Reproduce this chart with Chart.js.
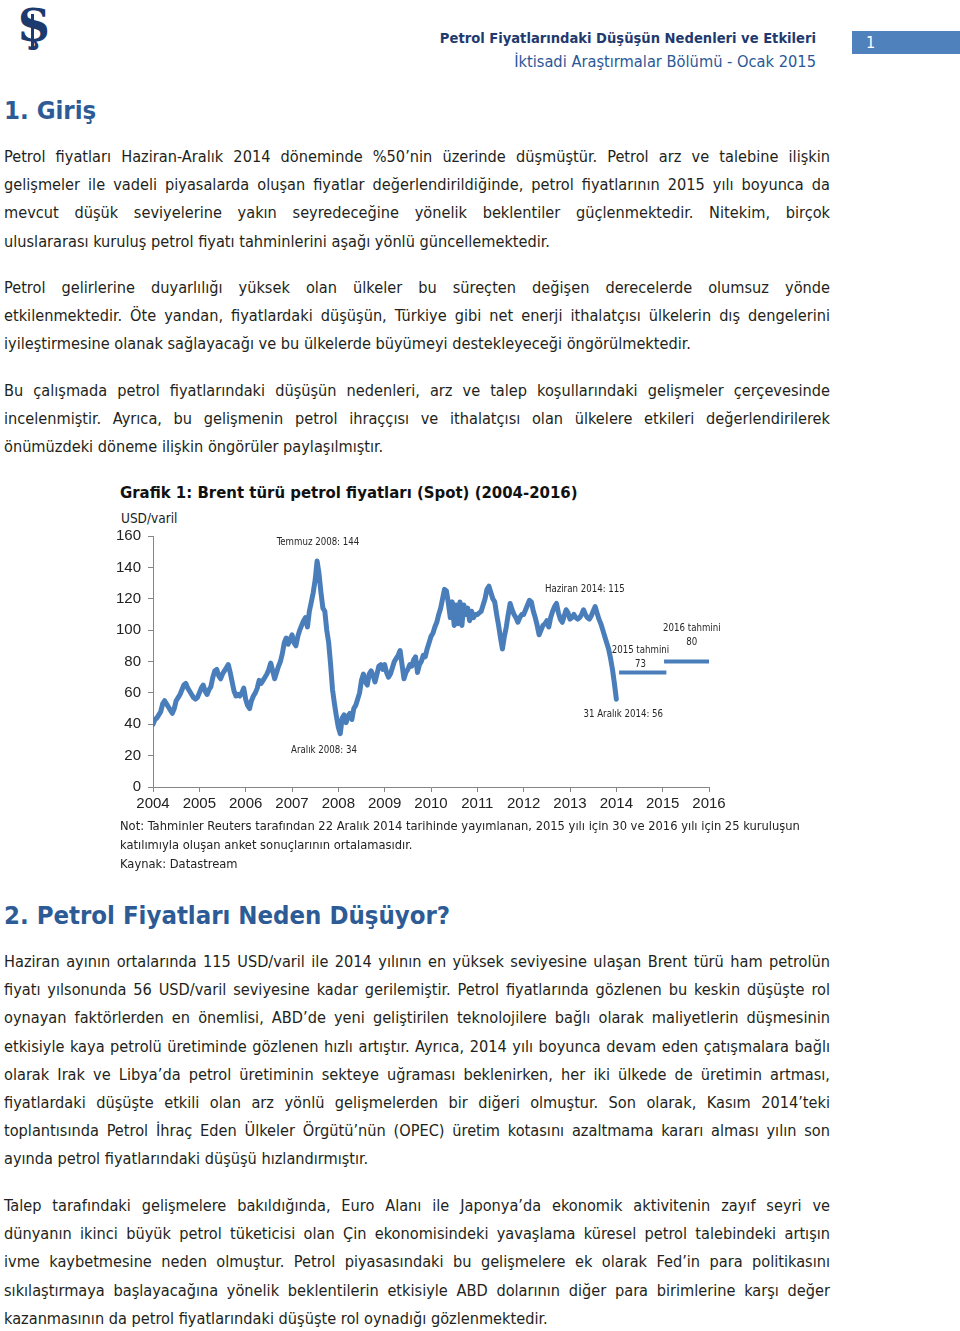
<!DOCTYPE html>
<html lang="tr">
<head>
<meta charset="utf-8">
<script src="https://cdn.jsdelivr.net/npm/chart.js@4"></script>
<style>
  html, body { margin: 0; padding: 0; background: #fff; }
  body { width: 960px; height: 1331px; position: relative; overflow: hidden;
         font-family: "Liberation Sans Narrow", "DejaVu Sans Condensed", "Roboto", sans-serif; color: #231f20; }
  .abs { position: absolute; }
  .logo { left: 18px; top: 0px; font: bold 44px "DejaVu Serif", serif; color: #1d3a6f; }
  .logo-bar { left: 31px; top: 14px; width: 3px; height: 36px; background: #1d3a6f; }
  .hdr1 { right: 144px; top: 29px; font-weight: bold; font-size: 14.6px; color: #1f3a6e; white-space: nowrap; }
  .hdr2 { right: 144px; top: 52px; font-size: 16.3px; color: #2b5797; white-space: nowrap; }
  .pagebox { left: 852px; top: 31px; width: 108px; height: 23px; background: #4f81bd; color: #fff; font-size: 16px; line-height: 23px; }
  .pagebox span { margin-left: 14px; }
  .h { left: 4px; font-weight: bold; font-size: 25.5px; color: #2d5b96; white-space: nowrap; }
  .para { left: 4px; width: 826px; font-size: 16.2px; }
  .para div { height: 28.2px; line-height: 28.2px; white-space: nowrap; }
  .para .j { text-align: justify; text-align-last: justify; }
  .ctitle { left: 120px; top: 483px; font-weight: bold; font-size: 16.6px; color: #111; white-space: nowrap; }
  .unit { left: 121px; top: 510px; font-size: 13.5px; color: #222; }
  .note { left: 120px; top: 816px; font-size: 12.8px; line-height: 19px; color: #222; white-space: nowrap; }
  #chartBox { left: 100px; top: 520px; width: 630px; height: 300px; }
</style>
</head>
<body>

<div class="abs logo">Ş</div>
<div class="abs logo-bar"></div>
<div class="abs hdr1">Petrol Fiyatlarındaki Düşüşün Nedenleri ve Etkileri</div>
<div class="abs hdr2">İktisadi Araştırmalar Bölümü - Ocak 2015</div>
<div class="abs pagebox"><span>1</span></div>

<div class="abs h" style="top:95px">1. Giriş</div>

<div class="abs para" style="top:143px">
  <div class="j">Petrol fiyatları Haziran-Aralık 2014 döneminde %50’nin üzerinde düşmüştür. Petrol arz ve talebine ilişkin</div>
  <div class="j">gelişmeler ile vadeli piyasalarda oluşan fiyatlar değerlendirildiğinde, petrol fiyatlarının 2015 yılı boyunca da</div>
  <div class="j">mevcut düşük seviyelerine yakın seyredeceğine yönelik beklentiler güçlenmektedir. Nitekim, birçok</div>
  <div>uluslararası kuruluş petrol fiyatı tahminlerini aşağı yönlü güncellemektedir.</div>
</div>

<div class="abs para" style="top:274px">
  <div class="j">Petrol gelirlerine duyarlılığı yüksek olan ülkeler bu süreçten değişen derecelerde olumsuz yönde</div>
  <div class="j">etkilenmektedir. Öte yandan, fiyatlardaki düşüşün, Türkiye gibi net enerji ithalatçısı ülkelerin dış dengelerini</div>
  <div>iyileştirmesine olanak sağlayacağı ve bu ülkelerde büyümeyi destekleyeceği öngörülmektedir.</div>
</div>

<div class="abs para" style="top:377px">
  <div class="j">Bu çalışmada petrol fiyatlarındaki düşüşün nedenleri, arz ve talep koşullarındaki gelişmeler çerçevesinde</div>
  <div class="j">incelenmiştir. Ayrıca, bu gelişmenin petrol ihraççısı ve ithalatçısı olan ülkelere etkileri değerlendirilerek</div>
  <div>önümüzdeki döneme ilişkin öngörüler paylaşılmıştır.</div>
</div>

<div class="abs ctitle">Grafik 1: Brent türü petrol fiyatları (Spot) (2004-2016)</div>
<div class="abs unit">USD/varil</div>
<div class="abs" id="chartBox"><canvas id="brent" width="630" height="300"></canvas></div>
<div class="abs note">Not: Tahminler Reuters tarafından 22 Aralık 2014 tarihinde yayımlanan, 2015 yılı için 30 ve 2016 yılı için 25 kuruluşun<br>katılımıyla oluşan anket sonuçlarının ortalamasıdır.<br>Kaynak: Datastream</div>

<div class="abs h" style="top:900px">2. Petrol Fiyatları Neden Düşüyor?</div>

<div class="abs para" style="top:948px">
  <div class="j">Haziran ayının ortalarında 115 USD/varil ile 2014 yılının en yüksek seviyesine ulaşan Brent türü ham petrolün</div>
  <div class="j">fiyatı yılsonunda 56 USD/varil seviyesine kadar gerilemiştir. Petrol fiyatlarında gözlenen bu keskin düşüşte rol</div>
  <div class="j">oynayan faktörlerden en önemlisi, ABD’de yeni geliştirilen teknolojilere bağlı olarak maliyetlerin düşmesinin</div>
  <div class="j">etkisiyle kaya petrolü üretiminde gözlenen hızlı artıştır. Ayrıca, 2014 yılı boyunca devam eden çatışmalara bağlı</div>
  <div class="j">olarak Irak ve Libya’da petrol üretiminin sekteye uğraması beklenirken, her iki ülkede de üretimin artması,</div>
  <div class="j">fiyatlardaki düşüşte etkili olan arz yönlü gelişmelerden bir diğeri olmuştur. Son olarak, Kasım 2014’teki</div>
  <div class="j">toplantısında Petrol İhraç Eden Ülkeler Örgütü’nün (OPEC) üretim kotasını azaltmama kararı alması yılın son</div>
  <div>ayında petrol fiyatlarındaki düşüşü hızlandırmıştır.</div>
</div>

<div class="abs para" style="top:1192px">
  <div class="j">Talep tarafındaki gelişmelere bakıldığında, Euro Alanı ile Japonya’da ekonomik aktivitenin zayıf seyri ve</div>
  <div class="j">dünyanın ikinci büyük petrol tüketicisi olan Çin ekonomisindeki yavaşlama küresel petrol talebindeki artışın</div>
  <div class="j">ivme kaybetmesine neden olmuştur. Petrol piyasasındaki bu gelişmelere ek olarak Fed’in para politikasını</div>
  <div class="j">sıkılaştırmaya başlayacağına yönelik beklentilerin etkisiyle ABD dolarının diğer para birimlerine karşı değer</div>
  <div>kazanmasının da petrol fiyatlarındaki düşüşte rol oynadığı gözlenmektedir.</div>
</div>

<script>
// Brent spot, USD/varil.
// First value sits on the "2004" tick, last one on the "2014" tick.
const seriesStart = 2004;
const stepsPerYear = 24;
const brentSpot = [
  40, 43, 44, 46, 48, 53, 55, 53, 51, 49, 47, 50, 55, 57, 59, 62, 65, 66, 63, 61, 59, 57, 56, 57,       // 2004
  60, 63, 65, 61, 59, 62, 64, 70, 74, 75, 71, 69, 72, 74, 76, 78, 73, 67, 61, 58, 59, 58, 60, 63,       // 2005
  56, 52, 50, 55, 58, 60, 63, 68, 66, 68, 70, 72, 75, 79, 74, 69, 73, 77, 80, 85, 92, 95, 91, 94,       // 2006
  97, 92, 90, 96, 100, 103, 106, 108, 102, 112, 118, 124, 132, 144, 136, 124, 114, 112, 100, 92, 78, 62, 53, 45, // 2007
  38, 34, 44, 46, 41, 45, 47, 43, 50, 52, 56, 60, 68, 72, 67, 65, 72, 74, 71, 67, 72, 77, 78, 75,       // 2008
  78, 73, 70, 72, 76, 80, 82, 84, 87, 78, 69, 73, 75, 78, 77, 81, 83, 73, 78, 80, 84, 83, 88, 92,       // 2009
  96, 98, 102, 105, 110, 114, 120, 126, 125, 117, 108, 118, 103, 116, 104, 118, 103, 116, 110, 114, 106, 112, 108, 110, // 2010
  110, 111, 112, 116, 120, 126, 128, 124, 120, 118, 110, 103, 95, 88, 96, 102, 110, 117, 113, 110, 108, 105, 108, 110, // 2011
  110, 113, 116, 119, 118, 112, 108, 103, 97, 100, 103, 104, 106, 102, 108, 112, 115, 117, 111, 107, 105, 109, 113, 111, // 2012
  107, 108, 110, 108, 107, 108, 110, 113, 110, 108, 107, 109, 112, 115, 111, 107, 104, 100, 96, 92, 88, 82, 75, 66,     // 2013
  56
];

// survey forecasts (Reuters), flat over each year
const forecastLabels = ['2015 tahmini', '2016 tahmini'];
const forecastValues = [73, 80];
const forecastSpans = [[2014.06, 2015.08], [2015.03, 2016.02]];

const yearTicks = [2004, 2016];
const valueTicks = [0, 160, 20];

const callouts = [
  {text: 'Temmuz 2008: 144', x: 2007.56, y: 156},
  {text: 'Aralık 2008: 34', x: 2007.69, y: 23},
  {text: 'Haziran 2014: 115', x: 2013.32, y: 126},
  {text: '31 Aralık 2014: 56', x: 2014.15, y: 46},
  {text: '2015 tahmini', x: 2014.52, y: 87},
  {text: '73', x: 2014.52, y: 78},
  {text: '2016 tahmini', x: 2015.63, y: 101},
  {text: '80', x: 2015.63, y: 92}
];

const lineBlue = '#4a7ebb';
const axisGrey = '#868686';
const fontFamily = '"Liberation Sans", Arial, sans-serif';
const narrowFamily = '"Liberation Sans Narrow", "DejaVu Sans Condensed", sans-serif';

let brentPoints = brentSpot.map((v, i) => ({x: seriesStart + i / stepsPerYear, y: v}));

let datasets = [{
  data: brentPoints, borderColor: lineBlue, borderWidth: 5,
  pointRadius: 0, tension: 0, borderJoinStyle: 'round', borderCapStyle: 'round'
}];
forecastValues.forEach(function(v, k) {
  datasets.push({
    label: forecastLabels[k],
    data: [{x: forecastSpans[k][0], y: v}, {x: forecastSpans[k][1], y: v}],
    borderColor: lineBlue, borderWidth: 4, pointRadius: 0
  });
});

const calloutPlugin = {
  id: 'callouts',
  afterDatasetsDraw(chart) {
    const ctx = chart.ctx, xs = chart.scales.x, ys = chart.scales.y;
    ctx.save();
    ctx.font = '9.6px ' + narrowFamily;
    ctx.fillStyle = '#262626';
    ctx.textAlign = 'center';
    ctx.textBaseline = 'middle';
    callouts.forEach(c => ctx.fillText(c.text, xs.getPixelForValue(c.x), ys.getPixelForValue(c.y)));
    ctx.restore();
  }
};

new Chart(document.getElementById('brent').getContext('2d'), {
  type: 'line',
  data: {datasets: datasets},
  options: {
    responsive: false,
    animation: false,
    layout: {padding: {top: 13, right: 21, left: 0, bottom: 0}},
    plugins: {legend: {display: false}, tooltip: {enabled: false}},
    scales: {
      x: {
        type: 'linear', min: yearTicks[0], max: yearTicks[1],
        ticks: {stepSize: 1, autoSkip: false, maxRotation: 0, padding: 3,
                color: '#222', font: {family: fontFamily, size: 15},
                callback: v => String(v)},
        grid: {drawOnChartArea: false, tickLength: 5, color: axisGrey},
        border: {color: axisGrey},
        afterFit: s => { s.height = 33; }
      },
      y: {
        min: valueTicks[0], max: valueTicks[1],
        ticks: {stepSize: valueTicks[2], padding: 7, color: '#222',
                font: {family: fontFamily, size: 15}},
        grid: {drawOnChartArea: false, tickLength: 5, color: axisGrey},
        border: {color: axisGrey},
        afterFit: s => { s.width = 53; }
      }
    }
  },
  plugins: [calloutPlugin]
});
</script>
</body>
</html>
